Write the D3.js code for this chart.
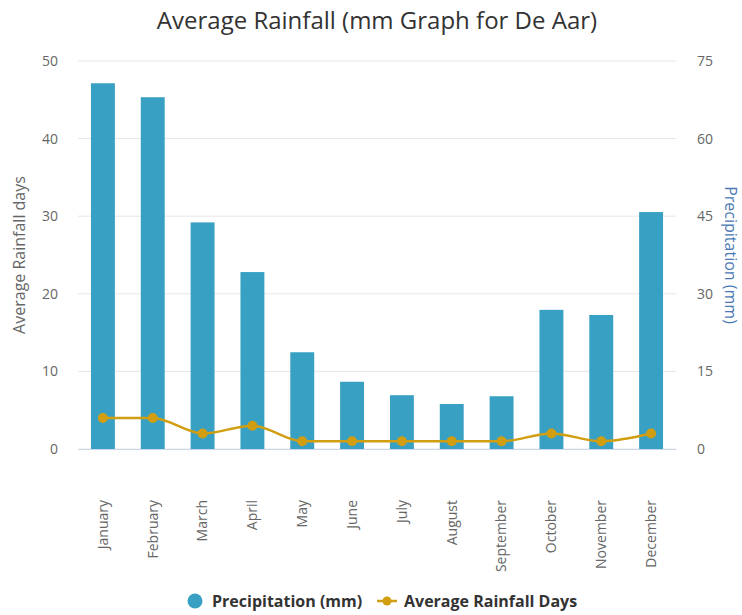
<!DOCTYPE html>
<head>
<meta charset="utf-8">
<title>Average Rainfall - De Aar</title>
<script src="https://d3js.org/d3.v7.min.js"></script>
<style>
	body { margin:0; background:#fff; font-family:"Open Sans","DejaVu Sans",sans-serif; }
	.grid line { stroke:#e6e6e6; stroke-width:1px; }
	.tick text { fill:#666; font-size:14px; font-family:"Open Sans","DejaVu Sans",sans-serif; }
	.x-axis .tick text { font-size:14px; }
	.bar { fill:#38a1c3; }
	.daysline { fill:none; stroke:#d19e12; stroke-width:2.5px; }
	.daysdot { fill:#d19e12; }
</style>
</head>
<body>
<div class="chartContainer"></div>
<script>
// data
var months=["January","February","March","April","May","June","July","August","September","October","November","December"];
var precipitation=[70.7,68,43.8,34.2,18.7,13,10.4,8.7,10.2,26.9,25.9,45.8];
var rainDays=[4,4,2,3,1,1,1,1,1,2,1,2];
var leftTicks=[0,10,20,30,40,50];
var rightTicks=[0,15,30,45,60,75];

var totalWidth=742, totalHeight=615;
var margin={top:61, left:78, right:66, bottom:166};
var width=totalWidth-margin.left-margin.right,
	height=totalHeight-margin.top-margin.bottom;

var svg=d3.select(".chartContainer").append("svg")
	.attr("width",totalWidth)
	.attr("height",totalHeight);

svg.append("text")
	.attr("x",377).attr("y",29)
	.attr("text-anchor","middle")
	.style("font-size","24px")
	.style("fill","#333")
	.text("Average Rainfall (mm Graph for De Aar)");

var g=svg.append("g").attr("transform","translate("+margin.left+","+margin.top+")");

var x=d3.scaleBand().domain(months).range([0,width]).paddingInner(0.52).paddingOuter(0.26);
var yDays=d3.scaleLinear().domain([0,50]).range([height,0]);
var yMm=d3.scaleLinear().domain([0,75]).range([height,0]);

// gridlines
g.append("g").attr("class","grid")
	.selectAll("line").data(leftTicks).enter().append("line")
	.attr("x1",0).attr("x2",width)
	.attr("y1",function(d){ return yDays(d); })
	.attr("y2",function(d){ return yDays(d); });

// left axis
var yLeft=g.append("g").attr("class","y-axis")
	.call(d3.axisLeft(yDays).tickValues(leftTicks).tickSize(0).tickPadding(20));
yLeft.select(".domain").remove();

var yRight=g.append("g").attr("class","y-axis2")
	.attr("transform","translate("+width+",0)")
	.call(d3.axisRight(yMm).tickValues(rightTicks).tickSize(0).tickPadding(21));
yRight.select(".domain").remove();

svg.append("text")
	.attr("transform","translate(25,"+(margin.top+height/2)+") rotate(-90)")
	.attr("text-anchor","middle")
	.style("font-size","16px").style("fill","#666")
	.text("Average Rainfall days");

svg.append("text")
	.attr("transform","translate(725,"+(margin.top+height/2)+") rotate(90)")
	.attr("text-anchor","middle")
	.style("font-size","16px").style("fill","#4a79b5")
	.text("Precipitation (mm)");

// bars
g.selectAll(".bar").data(precipitation).enter().append("rect")
	.attr("class","bar")
	.attr("x",function(d,i){ return x(months[i]); })
	.attr("width",x.bandwidth())
	.attr("y",function(d){ return yMm(d); })
	.attr("height",function(d){ return height-yMm(d); });

// x axis
var xAxis=g.append("g").attr("class","x-axis")
	.attr("transform","translate(0,"+height+")")
	.call(d3.axisBottom(x).tickSize(0));
xAxis.select(".domain").attr("stroke","#ccd6eb");
xAxis.selectAll(".tick text")
	.attr("transform","rotate(-90)")
	.attr("text-anchor","end")
	.attr("x",-51).attr("y",0).attr("dy","0.35em");

// rain days line
var line=d3.line()
	.curve(d3.curveMonotoneX)
	.x(function(d,i){ return x(months[i])+x.bandwidth()/2; })
	.y(function(d){ return yDays(d); });

g.append("path").datum(rainDays).attr("class","daysline").attr("d",line);
g.selectAll(".daysdot").data(rainDays).enter().append("circle")
	.attr("class","daysdot")
	.attr("cx",function(d,i){ return x(months[i])+x.bandwidth()/2; })
	.attr("cy",function(d){ return yDays(d); })
	.attr("r",5);

// legend
var legend=svg.append("g").attr("transform","translate(0,601)");
legend.append("circle").attr("cx",195).attr("cy",0).attr("r",7.5).style("fill","#38a1c3");
legend.append("text").attr("x",212).attr("y",6)
	.style("font-size","16px").style("font-weight","bold").style("fill","#333")
	.text("Precipitation (mm)");
legend.append("line").attr("x1",377).attr("x2",397).attr("y1",0).attr("y2",0)
	.style("stroke","#d19e12").style("stroke-width",2.5);
legend.append("circle").attr("cx",387).attr("cy",0).attr("r",4.5).style("fill","#d19e12");
legend.append("text").attr("x",404).attr("y",6)
	.style("font-size","16px").style("font-weight","bold").style("fill","#333")
	.text("Average Rainfall Days");
</script>
</body>
</html>
